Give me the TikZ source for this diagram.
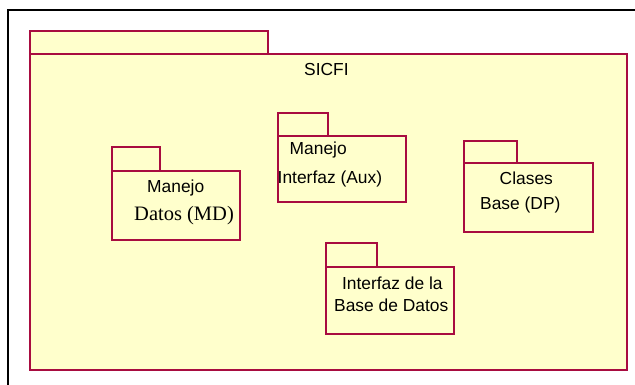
\documentclass[tikz,border=0pt]{standalone}
\usepackage{fontspec}
\setmainfont{Liberation Sans}
\newfontfamily\timesfont{Liberation Serif}
\definecolor{pkgline}{HTML}{A80C40}
\definecolor{pkgfill}{HTML}{FFFFCC}
\usetikzlibrary{positioning}
\tikzset{
  pkg/.style={draw=pkgline, fill=pkgfill, line width=1.8pt, inner sep=0pt, outer sep=0pt},
  tab/.style={pkg, anchor=south west},
  txt/.style={anchor=base west, inner sep=0pt, font=\fontsize{17.4}{20}\selectfont},
  serif/.style={txt, font=\timesfont\fontsize{20.5}{24}\selectfont},
}
\begin{document}
\begin{tikzpicture}[x=1pt,y=-1pt]
\useasboundingbox (0,0) rectangle (635,385);
\draw[line width=1.5pt] (8,400) -- (8,10) -- (650,10);
% SICFI
\node[pkg, minimum width=597pt, minimum height=316pt, anchor=north west] (sicfi) at (30,54) {};
\node[tab, minimum width=238pt, minimum height=23pt, above right=0pt and 0pt of sicfi.north west] (sicfitab) {};
\node[txt] (sicfilbl) at (304,76) {SICFI};
% subpaquetes
\node[pkg, minimum width=128pt, minimum height=69pt, anchor=north west] (md) at (112,171) {};
\node[tab, minimum width=48pt, minimum height=24pt, above right=0pt and 0pt of md.north west] (mdtab) {};
\node[txt] (md1) at (147,192.7) {Manejo};
\node[serif] (md2) at (134,220.7) {Datos (MD)};
\node[pkg, minimum width=128pt, minimum height=66pt, anchor=north west] (aux) at (278,136) {};
\node[tab, minimum width=50pt, minimum height=23pt, above right=0pt and 0pt of aux.north west] (auxtab) {};
\node[txt] (aux1) at (289.5,155) {Manejo};
\node[txt] (aux2) at (277.5,183.3) {Interfaz (Aux)};
\node[pkg, minimum width=129pt, minimum height=69pt, anchor=north west] (dp) at (464,163) {};
\node[tab, minimum width=53pt, minimum height=22pt, above right=0pt and 0pt of dp.north west] (dptab) {};
\node[txt] (dp1) at (499.5,185) {Clases};
\node[txt] (dp2) at (480,209) {Base (DP)};
\node[pkg, minimum width=128pt, minimum height=67pt, anchor=north west] (bd) at (326,267) {};
\node[tab, minimum width=51pt, minimum height=24pt, above right=0pt and 0pt of bd.north west] (bdtab) {};
\node[txt] (bd1) at (341.8,289.3) {Interfaz de la};
\node[txt] (bd2) at (334,311) {Base de Datos};
\end{tikzpicture}
\end{document}
